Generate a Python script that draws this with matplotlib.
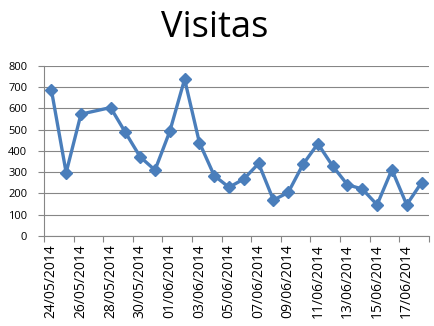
import matplotlib
matplotlib.use("Agg")
import matplotlib.pyplot as plt
import numpy as np

dates = ["24/05/2014", "25/05/2014", "26/05/2014", "27/05/2014", "28/05/2014",
         "29/05/2014", "30/05/2014", "31/05/2014", "01/06/2014", "02/06/2014",
         "03/06/2014", "04/06/2014", "05/06/2014", "06/06/2014", "07/06/2014",
         "08/06/2014", "09/06/2014", "10/06/2014", "11/06/2014", "12/06/2014",
         "13/06/2014", "14/06/2014", "15/06/2014", "16/06/2014", "17/06/2014",
         "18/06/2014"]
visitas = [688, 298, 573, None, 604, 487, 372, 310, 492, 737, 439, 284,
           229, 268, 341, 169, 205, 337, 434, 329, 241, 221, 147, 312, 147, 251]

plt.rcParams['font.family'] = ['Open Sans', 'DejaVu Sans']

fig = plt.figure(figsize=(4.35, 3.26), dpi=100)
ax = fig.add_axes([0.101, 0.276, 0.885, 0.522])

x_all = np.arange(len(dates))
pts = [(i, v) for i, v in zip(x_all, visitas) if v is not None]
xs = [p[0] for p in pts]
ys = [p[1] for p in pts]
ax.plot(xs, ys, color="#4A7EBB", linewidth=2.4, marker="D", markersize=6.5,
        markerfacecolor="#4A7EBB", markeredgecolor="#4A7EBB", zorder=3)

ax.set_xlim(-0.5, len(dates) - 0.5)
ax.set_ylim(0, 800)
ax.set_yticks(np.arange(0, 801, 100))
ax.yaxis.grid(True, color="#868686", linewidth=0.8)
ax.set_axisbelow(True)

# labels every 2 categories; tick marks between categories
ax.set_xticks(x_all[::2])
ax.set_xticklabels(dates[::2], rotation=90, fontsize=10)
ax.set_xticks(np.arange(-0.5, len(dates), 2), minor=True)
ax.tick_params(axis="x", which="major", length=0, pad=6)
ax.tick_params(axis="x", which="minor", length=4, color="#868686", width=0.8)
ax.tick_params(axis="y", length=4, color="#868686", width=0.8, labelsize=8, pad=8)

for s in ["top", "right"]:
    ax.spines[s].set_visible(False)
for s in ["left", "bottom"]:
    ax.spines[s].set_color("#868686")
    ax.spines[s].set_linewidth(0.8)

fig.text(0.493, 0.915, "Visitas", fontsize=26, ha="center", va="center")

fig.savefig("out.png", dpi=100)
